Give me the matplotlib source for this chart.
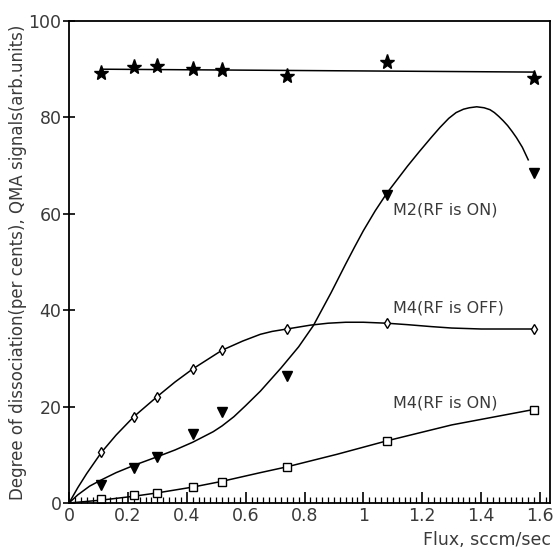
import numpy as np
import matplotlib.pyplot as plt
from matplotlib.ticker import MultipleLocator

# ==============================
# DATOS
# ==============================

flux = [0.11, 0.22, 0.30, 0.42, 0.52, 0.74, 1.08, 1.58]

star_y = [89.2, 90.5, 90.7, 90.0, 89.8, 88.6, 91.5, 88.2]
m2_on = [3.7, 7.2, 9.5, 14.3, 18.8, 26.4, 63.8, 68.4]
m4_off = [10.6, 17.8, 21.9, 27.8, 31.7, 36.0, 37.3, 36.0]
m4_on = [0.8, 1.7, 2.0, 3.3, 4.4, 7.4, 12.9, 19.3]

# curvas de ajuste dibujadas a mano en el original
star_fit_x = [0.11, 1.58]
star_fit_y = [90.0, 89.4]

m2_fit_x = [0, 0.03, 0.07, 0.11, 0.16, 0.22, 0.30, 0.36, 0.42, 0.49, 0.52, 0.56,
            0.60, 0.65, 0.72, 0.78, 0.83, 0.89, 0.94, 0.97, 1.00, 1.04, 1.08,
            1.15, 1.19, 1.23, 1.26, 1.29, 1.315, 1.34, 1.36, 1.385, 1.41, 1.43,
            1.445, 1.46, 1.475, 1.49, 1.505, 1.52, 1.54, 1.56]
m2_fit_y = [0, 1.7, 3.5, 4.8, 6.3, 7.8, 9.6, 11.0, 12.6, 14.8, 16.0, 17.9,
            20.2, 23.2, 28.0, 32.4, 36.8, 43.6, 49.6, 53.1, 56.5, 60.6, 64.3,
            69.9, 72.9, 75.8, 77.9, 79.8, 81.0, 81.7, 82.0, 82.2, 82.0, 81.6,
            81.0, 80.2, 79.3, 78.3, 77.1, 75.8, 73.8, 71.2]

m4_off_fit_x = [0, 0.03, 0.06, 0.11, 0.16, 0.22, 0.30, 0.36, 0.42, 0.52, 0.59,
                0.65, 0.69, 0.74, 0.78, 0.82, 0.88, 0.94, 1.00, 1.08, 1.15,
                1.23, 1.30, 1.40, 1.57]
m4_off_fit_y = [0, 3.2, 6.1, 10.5, 14.1, 17.9, 22.1, 25.1, 27.8, 31.7, 33.6,
                35.0, 35.6, 36.1, 36.5, 36.9, 37.3, 37.5, 37.5, 37.3, 37.0,
                36.6, 36.3, 36.1, 36.1]

m4_on_fit_x = [0, 0.11, 0.22, 0.30, 0.42, 0.52, 0.65, 0.74, 0.91, 1.08, 1.30, 1.57]
m4_on_fit_y = [0, 0.6, 1.4, 2.1, 3.3, 4.5, 6.3, 7.5, 10.1, 12.9, 16.2, 19.3]

x_ticks = [0, 0.2, 0.4, 0.6, 0.8, 1.0, 1.2, 1.4, 1.6]
x_tick_labels = ["0", "0.2", "0.4", "0.6", "0.8", "1", "1.2", "1.4", "1.6"]
y_ticks = [0, 20, 40, 60, 80, 100]

# ==============================
# GRAFICO
# ==============================

plt.rcParams['font.family'] = ['DejaVu Sans']
txt = '#3a3a3a'

fig = plt.figure(figsize=(5.53, 5.51), dpi=100)
ax = fig.add_axes([0.1248, 0.0871, 0.8698, 0.8748])

lw = 1.1
ax.plot(star_fit_x, star_fit_y, color='k', lw=lw)
ax.plot(m2_fit_x, m2_fit_y, color='k', lw=lw)
ax.plot(m4_off_fit_x, m4_off_fit_y, color='k', lw=lw)
ax.plot(m4_on_fit_x, m4_on_fit_y, color='k', lw=lw)

ax.plot(flux, star_y, ls='none', marker='*', ms=11, color='k')
ax.plot(flux, m2_on, ls='none', marker='v', ms=6.5, color='k')
ax.plot(flux, m4_off, ls='none', marker='d', ms=5, mfc='white', mec='k', mew=1.0)
ax.plot(flux, m4_on, ls='none', marker='s', ms=6, mfc='white', mec='k', mew=1.0)

ax.text(1.10, 60.8, "M2(RF is ON)", fontsize=11.5, color=txt, va='center')
ax.text(1.10, 40.5, "M4(RF is OFF)", fontsize=11.5, color=txt, va='center')
ax.text(1.10, 20.7, "M4(RF is ON)", fontsize=11.5, color=txt, va='center')

ax.set_xlim(0, 1.634)
ax.set_ylim(0, 100)
ax.set_xticks(x_ticks)
ax.set_xticklabels(x_tick_labels)
ax.set_yticks(y_ticks)
ax.xaxis.set_minor_locator(MultipleLocator(0.02))

ax.tick_params(axis='x', which='major', direction='in', length=8, width=1.2,
               labelsize=12.5, labelcolor=txt, pad=3)
ax.tick_params(axis='x', which='minor', direction='in', length=4, width=0.9)
ax.tick_params(axis='y', which='major', direction='inout', length=9, width=1.2,
               labelsize=12.5, labelcolor=txt, pad=1)

for s in ax.spines.values():
    s.set_linewidth(1.3)

ax.set_ylabel("Degree of dissociation(per cents), QMA signals(arb.units)",
              fontsize=12, color=txt, labelpad=1)
fig.text(0.997, 0.02, "Flux, sccm/sec", ha='right', va='center',
         fontsize=12.5, color=txt)

fig.savefig("out.png", dpi=100)
